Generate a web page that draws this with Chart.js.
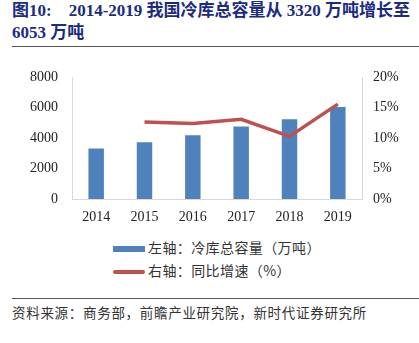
<!DOCTYPE html>
<html>
<head>
<meta charset="utf-8">
<script src="https://cdn.jsdelivr.net/npm/chart.js@4"></script>
<style>
  body { margin: 0; background: #fff; width: 419px; height: 343px; position: relative; overflow: hidden; }
  .title { position: absolute; left: 12px; color: #1c2b82; font: bold 17px "Liberation Serif", "Noto Sans CJK SC", serif; white-space: pre; line-height: 20px; }
  .rule { position: absolute; left: 12px; width: 407px; height: 1px; background: #555; }
  #box { position: absolute; left: 0; top: 55px; width: 419px; height: 175px; }
  .leg { position: absolute; left: 113px; font: 14px "Noto Sans CJK SC", sans-serif; color: #333; white-space: pre; line-height: 18px; letter-spacing: 0.4px; }
  .sw { display: inline-block; vertical-align: middle; width: 32px; margin-right: 3px; }
  .source { position: absolute; left: 12px; top: 302px; font: 13.5px "Noto Sans CJK SC", sans-serif; color: #333; letter-spacing: 0.7px; white-space: pre; }
</style>
</head>
<body>
<div class="title" style="top:1px">图10:    2014-2019 我国冷库总容量从 3320 万吨增长至</div>
<div class="title" style="top:23px">6053 万吨</div>
<div class="rule" style="top:46px"></div>
<div id="box"><canvas id="chart"></canvas></div>
<div class="leg" style="top:238px"><span class="sw" style="height:6px;background:#4f81bd"></span>左轴：冷库总容量（万吨）</div>
<div class="leg" style="top:261px"><span class="sw" style="height:4px;border-radius:2px;background:#c0504d"></span>右轴：同比增速（%）</div>
<div class="rule" style="top:298px"></div>
<div class="source">资料来源：商务部，前瞻产业研究院，新时代证券研究所</div>
<script>
const years = ['2014', '2015', '2016', '2017', '2018', '2019'];
const capacity = [3320, 3740, 4200, 4770, 5240, 6053];
const growth = [null, 12.65, 12.4, 13.1, 10.3, 15.6];

const axisFont = { family: 'Liberation Serif', size: 14 };
const axisColor = '#d9d9d9';

new Chart(document.getElementById('chart'), {
    data: {
        labels: years,
        datasets: [{
            type: 'line',
            label: '右轴：同比增速（%）',
            data: growth,
            yAxisID: 'y1',
            borderColor: '#c0504d',
            borderWidth: 3.5,
            pointRadius: 0,
            tension: 0,
            order: 0
        }, {
            type: 'bar',
            label: '左轴：冷库总容量（万吨）',
            data: capacity,
            yAxisID: 'y',
            backgroundColor: '#4f81bd',
            categoryPercentage: 1,
            barPercentage: 0.32,
            order: 1
        }]
    },
    options: {
        responsive: true,
        maintainAspectRatio: false,
        animation: false,
        layout: { padding: { top: 18, right: 0, left: 0, bottom: 0 } },
        plugins: { legend: { display: false }, tooltip: { enabled: false } },
        scales: {
            x: {
                grid: { display: false, drawTicks: false },
                border: { color: axisColor },
                ticks: { font: axisFont, color: '#222', padding: 10, maxRotation: 0 },
                afterFit: s => { s.height = 31; }
            },
            y: {
                position: 'left',
                min: 0, max: 8000,
                grid: { display: false, drawTicks: false },
                border: { color: axisColor },
                ticks: { stepSize: 2000, font: axisFont, color: '#222', padding: 14, callback: v => String(v) },
                afterFit: s => { s.width = 72; }
            },
            y1: {
                position: 'right',
                min: 0, max: 20,
                grid: { display: false, drawTicks: false },
                border: { color: axisColor },
                ticks: { stepSize: 5, font: axisFont, color: '#222', padding: 11, callback: v => v + '%' },
                afterFit: s => { s.width = 57; }
            }
        }
    }
});
</script>
</body>
</html>
